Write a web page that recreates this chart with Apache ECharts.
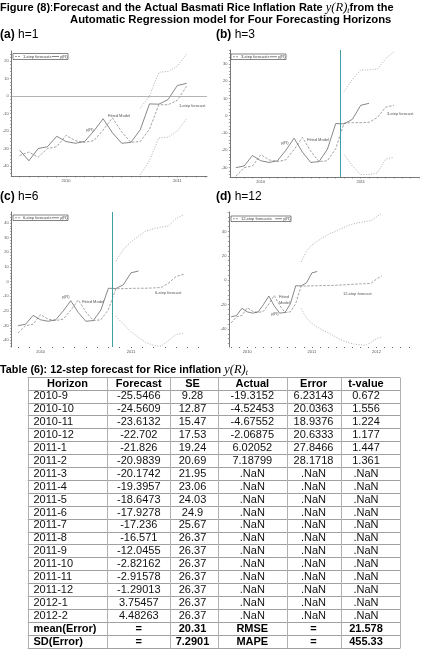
<!DOCTYPE html>
<html><head><meta charset="utf-8">
<script src="https://cdn.jsdelivr.net/npm/echarts@6/dist/echarts.min.js"></script>
<style>html,body{margin:0;padding:0;background:#fff}#c{width:429px;height:655px}</style>
</head><body><div id="c"></div>
<script>
// ---------- DATA ----------
const allMonths = ['2009-8','2009-9','2009-10','2009-11','2009-12',
 '2010-1','2010-2','2010-3','2010-4','2010-5','2010-6','2010-7','2010-8','2010-9','2010-10','2010-11','2010-12',
 '2011-1','2011-2','2011-3','2011-4','2011-5','2011-6','2011-7','2011-8','2011-9','2011-10','2011-11','2011-12',
 '2012-1','2012-2'];
// actual y(R)_t, 2009-8 .. 2011-2
const actual = [-31,-37,-30,-29,-23,-26,-27,-26,-20,-13,-21,-27,-26.5,-19.32,-4.52,-4.68,-2.07,6.02,7.19];
// fitted / 1-step forecasts, 2009-8 .. 2011-2
const fitted1 = [-34,-32,-35,-30,-29,-22.5,-25.5,-26.5,-25.5,-19.5,-12.5,-20.5,-26.5,-26,-19,-5,-5,-2.5,5.5];
// 1-step bands, 2010-9 .. 2011-2
const up1 = [-7,0,13.5,14,17,24];
const lo1 = [-45,-37,-24,-23.5,-20,-13];
// 3-step forecasts & bands, 2010-11 .. 2011-5
const fc3 = [-4.3,-4,-4,-3.8,-1,5,6];
const up3 = [14,21,26.5,26.5,27,33,37];
const lo3 = [-22.5,-29,-34,-34,-33,-25,-24];
// 6-step, 2010-11 .. 2011-8
const fc6 = [-4.8,-4.8,-4.6,-4.5,-4.5,-4.3,-4,-1,3.5,5];
const up6 = [14,22,27,31,34.5,36,37,38,43,45.5];
const lo6 = [-23.6,-29,-34,-38,-41.5,-43.4,-44,-40,-36,-35];
// 12-step, 2010-11 .. 2012-2
const fc12 = [-4.7,-4.7,-4.6,-4.5,-4.4,-4.3,-4.2,-4,-3.8,-3.5,-3.2,-3,-2.8,-2.5,1,3.5];
const up12 = [15,24,29,32,35,37.5,39.5,41.5,43.5,45.5,46.5,47.5,48.2,49,52,55];
const lo12 = [-23.3,-31,-35.5,-38.5,-41,-43,-45.5,-48,-50,-51.5,-52.5,-53,-53.4,-51,-48,-46.5];
// tick labels
const yTicksA = [-40,-30,-20,-10,0,10,20];
const yTicksB = [-30,-20,-10,0,10,20,30];
const yTicksC = [-40,-30,-20,-10,0,10,20,30,40];
const yTicksD = [-40,-20,0,20,40];
const yearsAB = ['2010','2011'];
const yearsD = ['2010','2011','2012'];
// table
const tHeader = ['Horizon','Forecast','SE','Actual','Error','t-value'];
const tHorizon = ['2010-9','2010-10','2010-11','2010-12','2011-1','2011-2','2011-3','2011-4','2011-5','2011-6','2011-7','2011-8','2011-9','2011-10','2011-11','2011-12','2012-1','2012-2'];
const tForecast = ['-25.5466','-24.5609','-23.6132','-22.702','-21.826','-20.9839','-20.1742','-19.3957','-18.6473','-17.9278','-17.236','-16.571','-12.0455','-2.82162','-2.91578','-1.29013','3.75457','4.48263'];
const tSE = ['9.28','12.87','15.47','17.53','19.24','20.69','21.95','23.06','24.03','24.9','25.67','26.37','26.37','26.37','26.37','26.37','26.37','26.37'];
const tActual = ['-19.3152','-4.52453','-4.67552','-2.06875','6.02052','7.18799','.NaN','.NaN','.NaN','.NaN','.NaN','.NaN','.NaN','.NaN','.NaN','.NaN','.NaN','.NaN'];
const tError = ['6.23143','20.0363','18.9376','20.6333','27.8466','28.1718','.NaN','.NaN','.NaN','.NaN','.NaN','.NaN','.NaN','.NaN','.NaN','.NaN','.NaN','.NaN'];
const tT = ['0.672','1.556','1.224','1.177','1.447','1.361','.NaN','.NaN','.NaN','.NaN','.NaN','.NaN','.NaN','.NaN','.NaN','.NaN','.NaN','.NaN'];
const tSummary = [['mean(Error)','=','20.31','RMSE','=','21.578'],['SD(Error)','=','7.2901','MAPE','=','455.33']];

// ---------- helpers ----------
function mIndex(s){const p=s.split('-');return (+p[0]-2010)*12+(+p[1]-1);}
function ser(start, vals){const i0=allMonths.indexOf(start);return vals.map((v,i)=>[mIndex(allMonths[i0+i]),v]);}
function range(a,b,s){const r=[];for(let v=a;v<=b+1e-9;v+=s)r.push(+v.toFixed(3));return r;}
const FF='"Liberation Sans", Arial, sans-serif';
const SERIF='"Liberation Serif", "DejaVu Serif", serif';
const fStart = 9.5; // forecast origin marker (between 2010-10 and 2010-11)

const fitShort = ser('2009-8', fitted1).slice(2, 15); // 2009-10 .. 2010-10
const actShort = ser('2009-10', actual.slice(2));

const panels = [
 {grid:{left:10,top:51,width:197,height:125}, x:[-5.9,15.2], y:[-45.7,25.7], yt:yTicksA, ym:2, yrs:yearsAB,
  act:ser('2009-8',actual), fc:ser('2009-8',fitted1), up:ser('2010-9',up1), lo:ser('2010-9',lo1), vline:false, hline:true, xdots:false},
 {grid:{left:230,top:50,width:189,height:127}, x:[-3.7,19], y:[-35.4,38], yt:yTicksB, ym:2, yrs:yearsAB,
  act:actShort, fc:fitShort.concat(ser('2010-11',fc3)), up:ser('2010-11',up3), lo:ser('2010-11',lo3), vline:true, hline:false, xdots:false},
 {grid:{left:10,top:212,width:197,height:135}, x:[-3.9,22.1], y:[-44.5,47.4], yt:yTicksC, ym:2, yrs:yearsAB,
  act:actShort, fc:fitShort.concat(ser('2010-11',fc6)), up:ser('2010-11',up6), lo:ser('2010-11',lo6), vline:true, hline:false, xdots:true},
 {grid:{left:229,top:212,width:190,height:135}, x:[-3.4,31.9], y:[-54.8,56], yt:yTicksD, ym:4, yrs:yearsD,
  act:actShort, fc:fitShort.concat(ser('2010-11',fc12)), up:ser('2010-11',up12), lo:ser('2010-11',lo12), vline:false, hline:false, xdots:true}
];

const grids=[],xAxes=[],yAxes=[],series=[];
panels.forEach((p,i)=>{
  grids.push(Object.assign({containLabel:false},p.grid));
  xAxes.push({type:'value',gridIndex:i,min:p.x[0],max:p.x[1],
    axisLine:{show:!p.xdots,onZero:false,lineStyle:{color:'#555',width:0.8}},
    axisTick:{show:true,customValues:p.xdots?range(-3,Math.floor(p.x[1]),1.5):range(Math.ceil(p.x[0]),Math.floor(p.x[1]),1),length:p.xdots?1:1.5,lineStyle:{color:'#666',width:p.xdots?1:0.6}},
    axisLabel:{customValues:p.yrs.map(y=>mIndex(y+'-1')),formatter:v=>String(2010+Math.round(v/12)),fontSize:4,color:'#555',margin:3,fontFamily:FF},
    splitLine:{show:false}});
  yAxes.push({type:'value',gridIndex:i,min:p.y[0],max:p.y[1],
    axisLine:{show:true,onZero:false,lineStyle:{color:'#555',width:0.8}},
    axisTick:{show:true,customValues:range(Math.ceil(p.y[0]/p.ym)*p.ym,p.y[1],p.ym),length:1.2,lineStyle:{color:'#666',width:0.6}},
    axisLabel:{customValues:p.yt,fontSize:4,color:'#555',margin:2.5,fontFamily:FF},
    splitLine:{show:false}});
  const base={type:'line',xAxisIndex:i,yAxisIndex:i,showSymbol:false,symbol:'none',silent:true,animation:false};
  series.push(Object.assign({},base,{name:'band-up'+i,data:p.up,lineStyle:{color:'#9a9a9a',width:0.8,type:[1,1.6]}}));
  series.push(Object.assign({},base,{name:'band-lo'+i,data:p.lo,lineStyle:{color:'#9a9a9a',width:0.8,type:[1,1.6]}}));
  series.push(Object.assign({},base,{name:'fc'+i,data:p.fc,lineStyle:{color:'#7a7a7a',width:0.7,type:[2.5,1.5]}}));
  const act=Object.assign({},base,{name:'act'+i,data:p.act,lineStyle:{color:'#555',width:0.7}});
  if(p.vline) act.markLine={silent:true,symbol:['none','none'],label:{show:false},animation:false,
     lineStyle:{color:'#3d9ea5',width:1,type:'solid'},data:[{xAxis:fStart}]};
  if(p.hline) act.markLine={silent:true,symbol:['none','none'],label:{show:false},animation:false,
     lineStyle:{color:'#a0a0a0',width:0.8,type:'solid'},data:[{yAxis:0}]};
  series.push(act);
});

// ---------- graphics ----------
const G=[];
function txt(x,y,text,font,fill,align,vAlign){G.push({type:'text',x:x,y:y,silent:true,style:{text:text,font:font,fill:fill||'#000',align:align||'left',verticalAlign:vAlign||'middle'}});}
// figure title
G.push({type:'text',x:0,y:8,silent:true,style:{
  text:'{b|Figure (8)}{n|:}{b|Forecast and the Actual Basmati Rice Inflation Rate }{m|y(R)}{s|t}{b|from the}',
  verticalAlign:'middle',
  rich:{b:{font:'bold 11px '+FF,fill:'#000',lineHeight:13,verticalAlign:'middle'},
        n:{font:'11px '+FF,fill:'#000',lineHeight:13,verticalAlign:'middle'},
        m:{font:'italic 12.5px '+SERIF,fill:'#000',lineHeight:13,verticalAlign:'middle'},
        s:{font:'italic 8px '+SERIF,fill:'#000',lineHeight:8,verticalAlign:'bottom'}}}});
txt(70,20,'Automatic Regression model for Four Forecasting Horizons','bold 11.3px '+FF,'#000');
// panel labels
function plabel(x,y,a,b){G.push({type:'text',x:x,y:y,silent:true,style:{text:'{b|'+a+'} {n|'+b+'}',verticalAlign:'middle',
  rich:{b:{font:'bold 12px '+FF,fill:'#000'},n:{font:'12px '+FF,fill:'#000'}}}});}
plabel(0,35,'(a)','h=1'); plabel(216,35,'(b)','h=3'); plabel(0,197,'(c)','h=6'); plabel(216,197,'(d)','h=12');
// legends
function legend(x,y,w,h,label){
  G.push({type:'rect',silent:true,shape:{x:x,y:y,width:w,height:h},style:{fill:'#fff',stroke:'#333',lineWidth:0.6}});
  const cy=y+h/2;
  G.push({type:'line',silent:true,shape:{x1:x+2,y1:cy,x2:x+8,y2:cy},style:{stroke:'#555',lineWidth:0.6,lineDash:[2,1]}});
  txt(x+10,cy,label,'4px '+FF,'#444');
  G.push({type:'line',silent:true,shape:{x1:x+w-16,y1:cy,x2:x+w-9,y2:cy},style:{stroke:'#333',lineWidth:0.6}});
  txt(x+w-8,cy,'y(R)','4px '+FF,'#444');
}
legend(13,53.5,55,6,'1-step forecasts');
legend(231,54,55,5.5,'3-step forecasts');
legend(13,215,55,5.5,'6-step forecasts');
legend(231,216,60,5.5,'12-step forecasts');
// in-plot annotations
const af='4px '+FF, ac='#555';
txt(86,130,'y(R)',af,ac); txt(108,116,'Fitted Model',af,ac); txt(179,106,'1-step forecast',af,ac);
txt(281,143,'y(R)',af,ac); txt(307,140,'Fitted Model',af,ac); txt(387,114,'3-step forecast',af,ac);
txt(62,297,'y(R)',af,ac); txt(82,302,'Fitted Model',af,ac); txt(155,293,'6-step forecast',af,ac);
txt(279,297,'Fitted',af,ac); txt(279,303,'Model',af,ac); txt(271,314,'y(R)',af,ac); txt(343,294,'12-step forecast',af,ac);
// table title
G.push({type:'text',x:0,y:370,silent:true,style:{
  text:'{b|Table (6): 12-step forecast for Rice inflation }{m|y(R)}{s|t}',verticalAlign:'middle',
  rich:{b:{font:'bold 10.8px '+FF,fill:'#000',lineHeight:13,verticalAlign:'middle'},
        m:{font:'italic 12.5px '+SERIF,fill:'#000',lineHeight:13,verticalAlign:'middle'},
        s:{font:'italic 8px '+SERIF,fill:'#000',lineHeight:8,verticalAlign:'bottom'}}}});
// table
const colX=[27.7,107.3,170.3,218.3,286.7,340.7,400];
const colC=[67.5,138.8,192.5,252.3,313.5,366];
const tTop=376.7, rowH=12.9, nRows=21;
for(let r=0;r<=nRows;r++){const y=Math.round(tTop+rowH*r)+0.5;
  G.push({type:'line',silent:true,shape:{x1:colX[0],y1:y,x2:colX[6],y2:y},style:{stroke:'#a0a0a0',lineWidth:1}});}
colX.forEach(x=>{const xx=Math.round(x)+0.5;
  G.push({type:'line',silent:true,shape:{x1:xx,y1:Math.round(tTop)+0.5,x2:xx,y2:Math.round(tTop+rowH*nRows)+0.5},style:{stroke:'#b0b0b0',lineWidth:1}});});
const rowY=r=>tTop+rowH*(r+0.5)+0.4;
tHeader.forEach((h,c)=>txt(colC[c],rowY(0),h,'bold 11px '+FF,'#000','center'));
tHorizon.forEach((h,r)=>{
  const y=rowY(r+1);
  txt(33.5,y,h,'11px '+FF,'#111','left');
  [tForecast[r],tSE[r],tActual[r],tError[r],tT[r]].forEach((v,c)=>txt(colC[c+1],y,v,'11px '+FF,'#111','center'));
});
tSummary.forEach((row,k)=>{
  const y=rowY(19+k);
  txt(33.5,y,row[0],'bold 11px '+FF,'#000','left');
  row.slice(1).forEach((v,c)=>txt(colC[c+1],y,v,'bold 11px '+FF,'#000','center'));
});

const chart=echarts.init(document.getElementById('c'),null,{renderer:'canvas',width:429,height:655});
chart.setOption({animation:false,backgroundColor:'#fff',grid:grids,xAxis:xAxes,yAxis:yAxes,series:series,graphic:{elements:G}});
</script></body></html>
